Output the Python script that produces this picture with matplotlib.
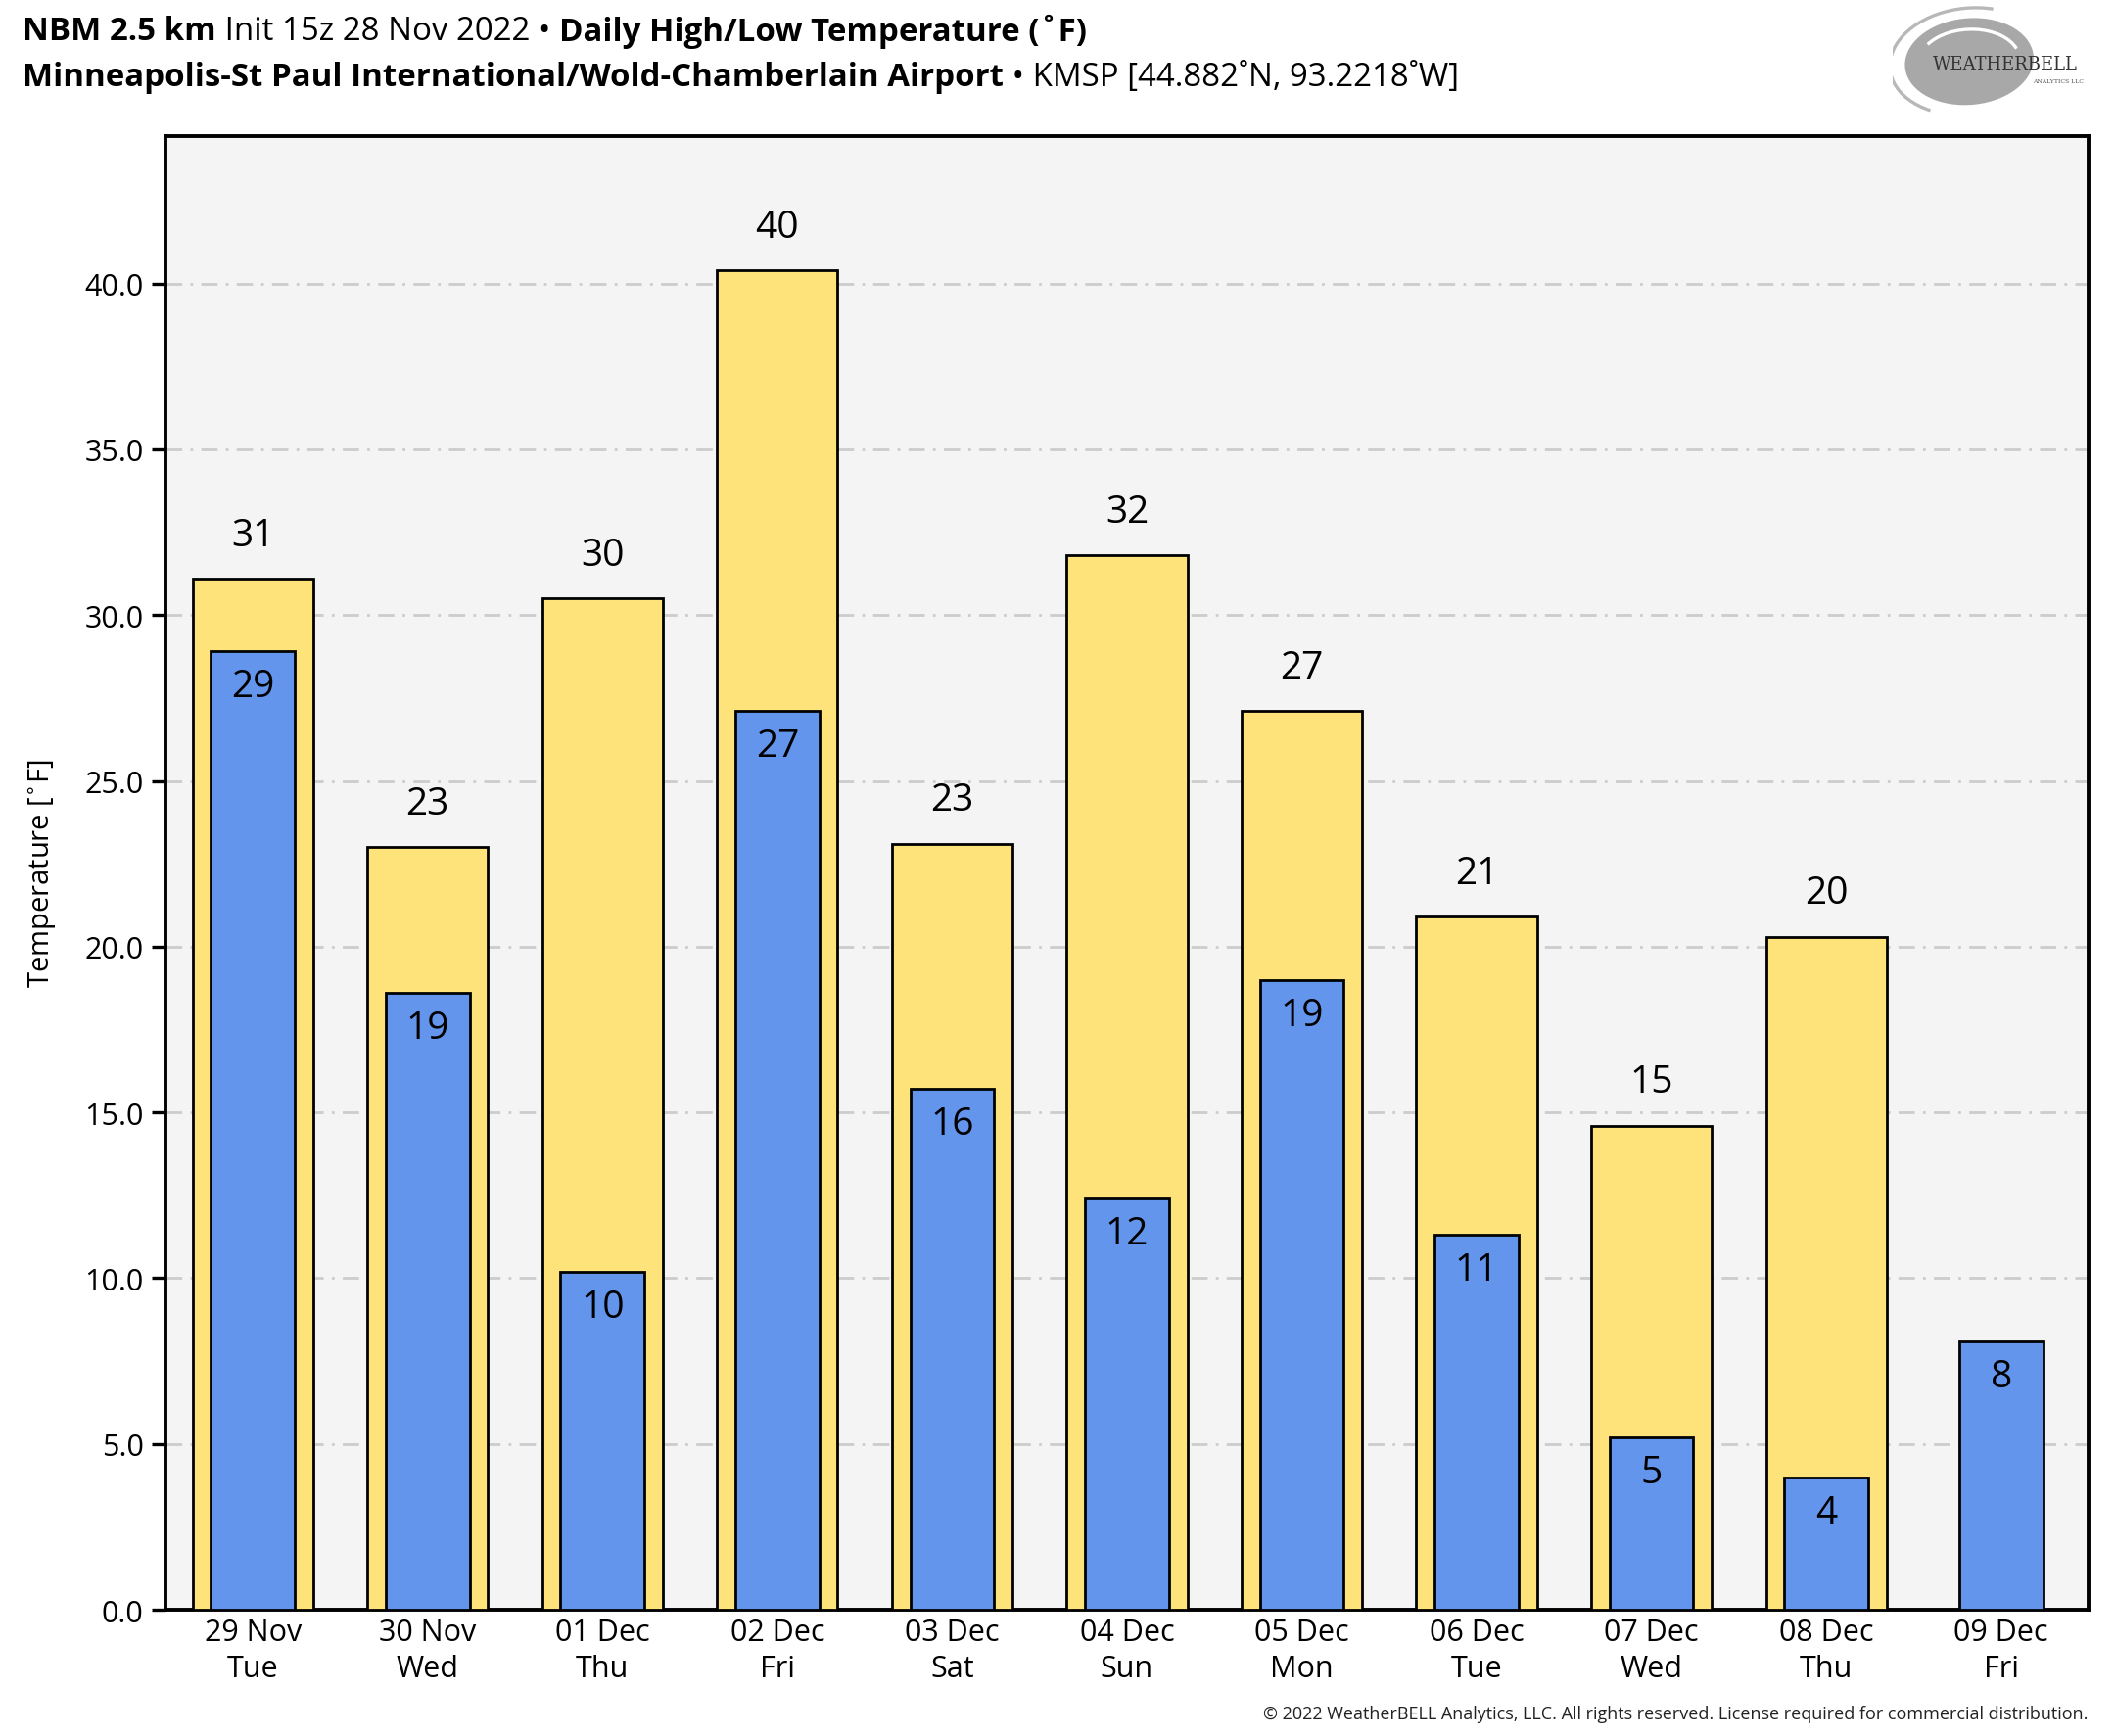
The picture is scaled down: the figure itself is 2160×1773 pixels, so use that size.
import matplotlib
matplotlib.use('Agg')
import matplotlib.pyplot as plt
from matplotlib.patches import Ellipse, Arc
import numpy as np

plt.rcParams['font.family'] = ['Open Sans', 'DejaVu Sans']

days = ['29 Nov\nTue', '30 Nov\nWed', '01 Dec\nThu', '02 Dec\nFri', '03 Dec\nSat',
        '04 Dec\nSun', '05 Dec\nMon', '06 Dec\nTue', '07 Dec\nWed', '08 Dec\nThu',
        '09 Dec\nFri']
highs = [31.1, 23.0, 30.5, 40.4, 23.1, 31.8, 27.1, 20.9, 14.6, 20.3, np.nan]
lows = [28.9, 18.6, 10.2, 27.1, 15.7, 12.4, 19.0, 11.3, 5.2, 4.0, 8.1]
yticks = [0, 5, 10, 15, 20, 25, 30, 35, 40]

fig = plt.figure(figsize=(10.8, 8.87), dpi=200)
ax = fig.add_axes([0.0782, 0.0727, 0.9093, 0.8484])
ax.set_facecolor('#f4f4f4')

x = np.arange(len(days))
hb = ax.bar(x, highs, width=0.69, color='#fde37a', edgecolor='black', linewidth=1.0, zorder=3)
lb = ax.bar(x, lows, width=0.48, color='#6495ed', edgecolor='black', linewidth=1.0, zorder=4)

for i, v in enumerate(highs):
    if not np.isnan(v):
        ax.text(i, v + 0.75, '%d' % round(v), ha='center', va='bottom', fontsize=14, zorder=5)
for i, v in enumerate(lows):
    ax.text(i, v - 0.5, '%d' % round(v), ha='center', va='top', fontsize=14, zorder=5)

ax.set_xlim(-0.5, len(days) - 0.5)
ax.set_ylim(0, 44.45)
ax.set_yticks(yticks)
ax.set_yticklabels(['%.1f' % t for t in yticks], fontsize=11)
ax.set_xticks(x)
ax.set_xticklabels(days, fontsize=11, linespacing=1.3)
ax.tick_params(axis='x', length=0, pad=3)
ax.tick_params(axis='y', length=5, width=1.2, pad=3)
ax.grid(axis='y', color='#cccccc', linestyle=(0, (6, 3, 1, 3)), linewidth=1.0, zorder=1)
ax.set_ylabel('Temperature [$^{\\circ}$F]', fontsize=10.5, labelpad=10)
for s in ax.spines.values():
    s.set_linewidth(1.4)

# title pieces with mixed weight
fig.canvas.draw()
r = fig.canvas.get_renderer()

def line(parts, y):
    xpos = 0.0106
    for txt, bold in parts:
        t = fig.text(xpos, y, txt, fontsize=11.9, fontweight='bold' if bold else 'normal',
                     va='center', ha='left')
        bb = t.get_window_extent(renderer=r)
        xpos += bb.width / fig.bbox.width

line([('NBM 2.5 km', True), (' Init 15z 28 Nov 2022 \u2022 ', False),
      ('Daily High/Low Temperature (\u02daF)', True)], 0.9815)
line([('Minneapolis-St Paul International/Wold-Chamberlain Airport', True),
      (' \u2022 KMSP [44.882\u02daN, 93.2218\u02daW]', False)], 0.955)

fig.text(0.9875, 0.008, '\u00a9 2022 WeatherBELL Analytics, LLC. All rights reserved. License required for commercial distribution.',
         ha='right', va='bottom', fontsize=6.5, color='#222222')

# logo
lax = fig.add_axes([0.895, 0.93, 0.095, 0.068])
lax.set_xlim(0, 1)
lax.set_ylim(0, 1)
lax.axis('off')
lax.add_patch(Ellipse((0.38, 0.5), 0.62, 0.72, angle=-15, color='#a8a8a8'))
lax.add_patch(Arc((0.38, 0.5), 0.78, 0.92, angle=-15, theta1=90, theta2=260, color='#b8b8b8', lw=1.2))
lax.add_patch(Arc((0.38, 0.5), 0.5, 0.55, angle=-15, theta1=40, theta2=160, color='white', lw=1.2))
lax.text(0.2, 0.48, 'WEATHERBELL', fontsize=6.5, family='DejaVu Serif', color='#333333', va='center')
lax.text(0.95, 0.34, 'ANALYTICS LLC', fontsize=2.2, family='DejaVu Serif', color='#555555', ha='right', va='center')

fig.savefig('out.png', dpi=200, facecolor='white')
